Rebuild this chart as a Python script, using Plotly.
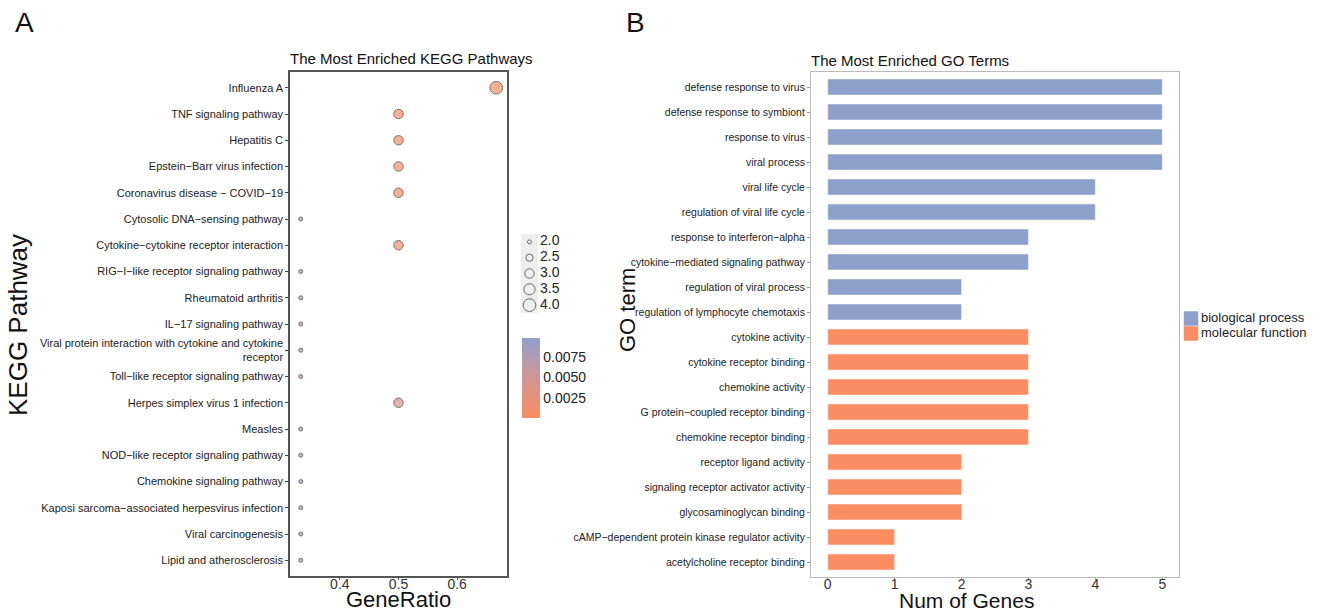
import plotly.graph_objects as go

W, H = 1320, 613
M = "\u2212"

# ---------------- KEGG data ----------------
kegg_terms = [
    "Influenza A", "TNF signaling pathway", "Hepatitis C",
    f"Epstein{M}Barr virus infection", f"Coronavirus disease {M} COVID{M}19",
    f"Cytosolic DNA{M}sensing pathway", f"Cytokine{M}cytokine receptor interaction",
    f"RIG{M}I{M}like receptor signaling pathway", "Rheumatoid arthritis",
    f"IL{M}17 signaling pathway",
    "Viral protein interaction with cytokine and cytokine<br>receptor",
    f"Toll{M}like receptor signaling pathway", "Herpes simplex virus 1 infection",
    "Measles", f"NOD{M}like receptor signaling pathway", "Chemokine signaling pathway",
    f"Kaposi sarcoma{M}associated herpesvirus infection", "Viral carcinogenesis",
    "Lipid and atherosclerosis",
]
kegg_ratio = [4/6, 3/6, 3/6, 3/6, 3/6, 2/6, 3/6, 2/6, 2/6, 2/6, 2/6, 2/6, 3/6,
              2/6, 2/6, 2/6, 2/6, 2/6, 2/6]
kegg_count = [4, 3, 3, 3, 3, 2, 3, 2, 2, 2, 2, 2, 3, 2, 2, 2, 2, 2, 2]
kegg_padj = [0.0001, 0.0004, 0.0004, 0.0005, 0.0005, 0.0065, 0.0006, 0.0065, 0.0065,
             0.0065, 0.0070, 0.0070, 0.0032, 0.0075, 0.0075, 0.0080, 0.0085, 0.0090,
             0.0095]
size_legend_vals = [2.0, 2.5, 3.0, 3.5, 4.0]
cbar_ticks = [0.0025, 0.0050, 0.0075]

# ---------------- GO data ----------------
go_terms = [
    "defense response to virus", "defense response to symbiont", "response to virus",
    "viral process", "viral life cycle", "regulation of viral life cycle",
    f"response to interferon{M}alpha", f"cytokine{M}mediated signaling pathway",
    "regulation of viral process", "regulation of lymphocyte chemotaxis",
    "cytokine activity", "cytokine receptor binding", "chemokine activity",
    f"G protein{M}coupled receptor binding", "chemokine receptor binding",
    "receptor ligand activity", "signaling receptor activator activity",
    "glycosaminoglycan binding", f"cAMP{M}dependent protein kinase regulator activity",
    "acetylcholine receptor binding",
]
go_counts = [5, 5, 5, 5, 4, 4, 3, 3, 2, 2, 3, 3, 3, 3, 3, 2, 2, 2, 1, 1]
go_cat = ["biological process"] * 10 + ["molecular function"] * 10
go_categories = ["biological process", "molecular function"]
go_colors = {"biological process": "#8DA0CB", "molecular function": "#FC8D62"}
go_xticks = [0, 1, 2, 3, 4, 5]

FONT = "Liberation Sans, Arial, sans-serif"
CSCALE = [[0, "#FC8D62"], [0.25, "#E6927A"], [0.5, "#CF9694"], [0.75, "#B29BB0"],
          [1, "#8DA0CB"]]


def dia(c):
    # ggplot-like area scale: count 2..4 -> diameter 4..12.7 px
    a0, a1 = 4.0 ** 2, 12.7 ** 2
    a = a0 + (c - 2) / 2 * (a1 - a0)
    return a ** 0.5


def px(x):
    return x / W


def py(y):
    return 1 - y / H


fig = go.Figure()

# KEGG dot plot
fig.add_trace(go.Scatter(
    x=kegg_ratio, y=kegg_terms, mode="markers", showlegend=False,
    xaxis="x", yaxis="y",
    marker=dict(size=[dia(c) for c in kegg_count], color=kegg_padj,
                colorscale=CSCALE, cmin=0.0001, cmax=0.0098,
                line=dict(color="#3a3a3a", width=1),
                colorbar=dict(x=px(522), xanchor="left", y=py(338), yanchor="top",
                              xpad=0, ypad=0,
                              len=80 / H, lenmode="fraction", thickness=18,
                              outlinewidth=0, ticks="", tickvals=cbar_ticks,
                              ticktext=[f"{v:.4f}" for v in cbar_ticks],
                              tickfont=dict(size=14, color="#222", family=FONT))),
))

# size legend (drawn on its own small hidden axis)
fig.add_trace(go.Scatter(
    x=[8.5] * len(size_legend_vals), y=size_legend_vals, mode="markers",
    xaxis="x3", yaxis="y3", showlegend=False, cliponaxis=False, hoverinfo="skip",
    marker=dict(size=[dia(v) for v in size_legend_vals], color="rgba(0,0,0,0)",
                line=dict(color="#333", width=1)),
))
fig.add_trace(go.Scatter(
    x=[19] * len(size_legend_vals), y=size_legend_vals, mode="text",
    text=[f"{v:.1f}" for v in size_legend_vals], textposition="middle right",
    textfont=dict(size=14, color="#222"),
    xaxis="x3", yaxis="y3", showlegend=False, cliponaxis=False, hoverinfo="skip",
))

# GO bars
for cat in go_categories:
    xs = [c for c, k in zip(go_counts, go_cat) if k == cat]
    ys = [t for t, k in zip(go_terms, go_cat) if k == cat]
    fig.add_trace(go.Bar(
        x=xs, y=ys, orientation="h", name=cat, showlegend=False,
        xaxis="x2", yaxis="y2", width=0.64,
        marker=dict(color=go_colors[cat], line=dict(color="rgba(255,255,255,0.6)", width=0.8)),
    ))

# GO legend (own hidden axis)
fig.add_trace(go.Scatter(
    x=[8] * len(go_categories), y=go_categories, mode="markers",
    xaxis="x4", yaxis="y4", showlegend=False, cliponaxis=False, hoverinfo="skip",
    marker=dict(symbol="square", size=14.5, color=[go_colors[c] for c in go_categories]),
))
fig.add_trace(go.Scatter(
    x=[18] * len(go_categories), y=go_categories, mode="text", text=go_categories,
    textposition="middle right", textfont=dict(size=13, color="#222"),
    xaxis="x4", yaxis="y4", showlegend=False, cliponaxis=False, hoverinfo="skip",
))

nk = len(kegg_terms)
ng = len(go_terms)
hidden = dict(visible=False, showgrid=False, zeroline=False, fixedrange=True)

fig.update_layout(
    width=W, height=H, margin=dict(l=0, r=0, t=0, b=0),
    paper_bgcolor="white", plot_bgcolor="rgba(0,0,0,0)",
    font=dict(family=FONT, color="#222"),
    barmode="overlay", showlegend=False,
    xaxis=dict(domain=[px(290), px(507)], range=[0.315, 0.685],
               tickvals=[0.4, 0.5, 0.6], ticktext=["0.4", "0.5", "0.6"],
               tickfont=dict(size=14, color="#333"), ticks="outside", ticklen=2,
               ticklabelstandoff=-8,
               tickcolor="#444", showgrid=False, zeroline=False,
               showline=True, linecolor="#555", linewidth=1.5, mirror=True),
    yaxis=dict(domain=[py(576), py(72)], type="category",
               categoryorder="array", categoryarray=kegg_terms,
               range=[nk - 1 + 0.6, -0.6],
               tickfont=dict(size=11, color="#222"), ticks="outside", ticklen=3,
               tickcolor="#444", showgrid=False, zeroline=False,
               showline=True, linecolor="#555", linewidth=1.5, mirror=True),
    xaxis2=dict(domain=[px(811), px(1179)], range=[-0.25, 5.25], anchor="y2",
                tickvals=go_xticks, ticktext=[str(v) for v in go_xticks],
                tickfont=dict(size=14, color="#333"), ticks="outside", ticklen=2,
                ticklabelstandoff=-8,
                tickcolor="#999", showgrid=False, zeroline=False,
                showline=True, linecolor="#bbb", linewidth=1, mirror=True),
    yaxis2=dict(domain=[py(577), py(72)], anchor="x2", type="category",
                categoryorder="array", categoryarray=go_terms,
                range=[ng - 1 + 0.6, -0.6],
                tickfont=dict(size=10.5, color="#222"), ticks="outside", ticklen=3,
                tickcolor="#999", showgrid=False, zeroline=False,
                showline=True, linecolor="#bbb", linewidth=1, mirror=True),
    xaxis3=dict(domain=[px(521), px(600)], range=[0, 79], anchor="y3", **hidden),
    yaxis3=dict(domain=[py(313), py(234)], range=[4.25, 1.75], anchor="x3", **hidden),
    xaxis4=dict(domain=[px(1183), px(1320)], range=[0, 137], anchor="y4", **hidden),
    yaxis4=dict(domain=[py(341), py(311)], range=[1.5, -0.5], anchor="x4",
                type="category", categoryorder="array", categoryarray=go_categories,
                **hidden),
)

anns = [
    dict(text="A", x=px(14), y=py(22), font=dict(size=28, color="#111")),
    dict(text="B", x=px(625), y=py(22), font=dict(size=28, color="#111")),
    dict(text="The Most Enriched KEGG Pathways", x=px(289), y=py(58), font=dict(size=15, color="#111")),
    dict(text="The Most Enriched GO Terms", x=px(810), y=py(60), font=dict(size=15, color="#111")),
    dict(text="GeneRatio", x=px(398), y=0, xanchor="center", yanchor="bottom",
         font=dict(size=22, color="#111")),
    dict(text="Num of Genes", x=px(966), y=0, xanchor="center", yanchor="bottom",
         font=dict(size=21, color="#111")),
    dict(text="KEGG Pathway", x=px(18), y=py(325), xanchor="center", textangle=-90, font=dict(size=26, color="#111")),
    dict(text="GO term", x=px(627), y=py(310), xanchor="center", textangle=-90, font=dict(size=22, color="#111")),
]
for a in anns:
    a.setdefault("xanchor", "left")
    a.setdefault("yanchor", "middle")
    fig.add_annotation(xref="paper", yref="paper", showarrow=False, borderpad=0, **a)

# key background for size legend
fig.add_shape(type="rect", xref="paper", yref="paper", x0=px(521), x1=px(538),
              y0=py(313), y1=py(234), fillcolor="#EEEEEE", line=dict(width=0), layer="below")

fig.write_html("out.html")
